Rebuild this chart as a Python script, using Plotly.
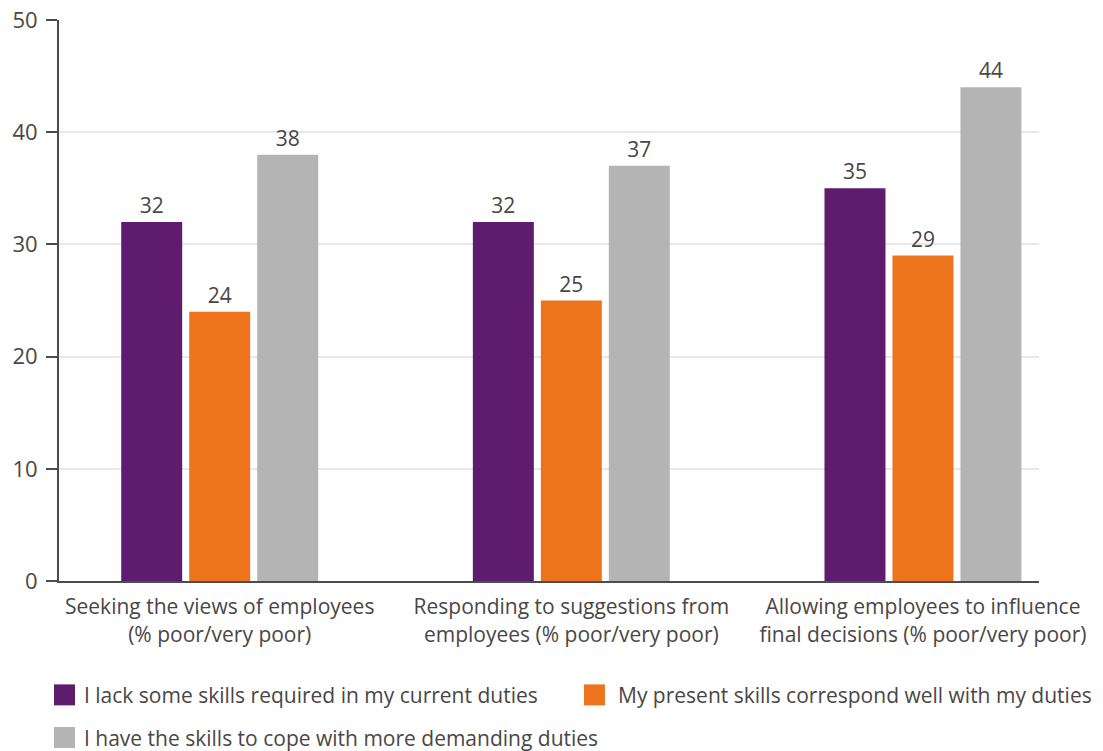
import plotly.graph_objects as go

# Data
categories = [
    "Seeking the views of employees<br>(% poor/very poor)",
    "Responding to suggestions from<br>employees (% poor/very poor)",
    "Allowing employees to influence<br>final decisions (% poor/very poor)",
]
series_names = [
    "I lack some skills required in my current duties",
    "My present skills correspond well with my duties",
    "I have the skills to cope with more demanding duties",
]
lack_skills = [32, 32, 35]
skills_match = [24, 25, 29]
more_demanding = [38, 37, 44]
series_values = [lack_skills, skills_match, more_demanding]
series_colors = ["#5f1b6e", "#ee731d", "#b4b4b4"]
y_ticks = [0, 10, 20, 30, 40, 50]

TEXT = "#4a4646"
FONT = "Open Sans, Lato, sans-serif"

fig = go.Figure()
for name, vals, col in zip(series_names, series_values, series_colors):
    fig.add_trace(go.Bar(
        x=list(range(len(categories))),
        y=vals,
        name=name,
        marker=dict(color=col, line=dict(width=0)),
        text=[str(v) for v in vals],
        textposition="outside",
        textfont=dict(size=21, color=TEXT, family=FONT),
        cliponaxis=False,
        showlegend=False,
    ))

# Legend: squares and labels laid out in two rows under the chart
# (square left, text left, row centre) in paper coordinates
legend_pos = [(-0.0051, 0.0255, -0.203), (0.5357, 0.5704, -0.203), (-0.0051, 0.0255, -0.279)]
for (sx, tx, ly), name, col in zip(legend_pos, series_names, series_colors):
    fig.add_shape(
        type="rect", xref="paper", yref="paper",
        x0=sx, x1=sx + 0.0214,
        y0=ly - 0.0187, y1=ly + 0.0187,
        fillcolor=col, line=dict(width=0),
    )
    fig.add_annotation(
        xref="paper", yref="paper", x=tx, y=ly,
        text=name, showarrow=False, xanchor="left", yanchor="middle",
        xshift=-2,
        font=dict(size=21, color=TEXT, family=FONT),
    )

fig.update_layout(
    width=1103, height=751,
    margin=dict(l=59, r=64, t=20, b=170),
    paper_bgcolor="white", plot_bgcolor="white",
    barmode="group", bargap=0.42, bargroupgap=0.103,
    font=dict(family=FONT, color=TEXT, size=21),
    xaxis=dict(
        range=[-0.457, 2.33],
        tickmode="array", tickvals=list(range(len(categories))),
        ticktext=categories,
        showline=True, linecolor="#4d4d4d", linewidth=2,
        ticks="", showgrid=False, zeroline=False,
        tickfont=dict(size=21, color=TEXT, family=FONT),
        ticklabelstandoff=6,
        automargin=False,
    ),
    yaxis=dict(
        range=[0, 50], tickvals=y_ticks,
        showline=True, linecolor="#4d4d4d", linewidth=2,
        ticks="outside", ticklen=11, tickwidth=2, tickcolor="#4d4d4d",
        showgrid=True, gridcolor="#e8e8e8", gridwidth=2,
        zeroline=False,
        tickfont=dict(size=22, color=TEXT, family=FONT),
        ticklabelstandoff=4,
        automargin=False,
    ),
)

fig.write_html("out.html")
